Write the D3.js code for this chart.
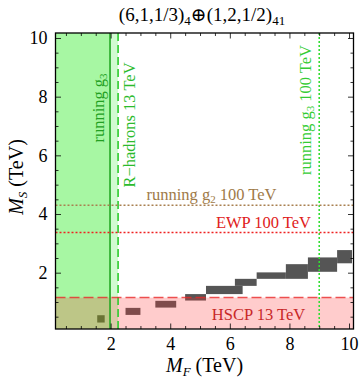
<!DOCTYPE html>
<html>
<head>
<meta charset="utf-8">
<script src="https://cdn.jsdelivr.net/npm/d3@7"></script>
<style>
  body { margin: 0; background: #fff; }
  text { font-family: "Liberation Serif", "DejaVu Serif", serif; }
</style>
</head>
<body>
<svg id="chart"></svg>
<script>
// excluded regions [x0, x1, y0, y1] in TeV
const regionNames = ["R-hadrons 13 TeV", "running g3", "HSCP 13 TeV"];
const regionBounds = [[0, 2.25, 0, 11], [0, 1.98, 0, 11], [0, 11, 0, 1.15]];

// bounds: vertical lines at M_F, horizontal lines at M_S
const vLineNames = ["running g3", "R-hadrons 13 TeV", "running g3 100 TeV"];
const vLineValues = [1.98, 2.25, 9.0];
const hLineNames = ["HSCP 13 TeV", "EWP 100 TeV", "running g2 100 TeV"];
const hLineValues = [1.15, 3.37, 4.3];

// allowed cells [xMin, xMax, yMin, yMax]
const cells = [
    [1.55, 1.8, 0.3, 0.55],
    [2.5, 3.0, 0.56, 0.8],
    [3.5, 4.2, 0.81, 1.04],
    [4.5, 5.2, 1.05, 1.27],
    [5.2, 6.43, 1.27, 1.55],
    [6.17, 6.9, 1.55, 1.79],
    [6.9, 7.88, 1.79, 2.01],
    [7.88, 8.62, 1.79, 2.29],
    [8.62, 9.6, 2.03, 2.52],
    [9.6, 10.1, 2.32, 2.77]
];

const xTicks = [2, 4, 6, 8, 10];
const yTicks = [2, 4, 6, 8, 10];

const width = 360, height = 387;
const margin = { top: 33, right: 6.5, bottom: 58, left: 55.5 };
const innerW = width - margin.left - margin.right;
const innerH = height - margin.top - margin.bottom;

let svg = d3.select("#chart").attr("width", width).attr("height", height);
let chart = svg.append("g").attr("transform", `translate(${margin.left},${margin.top})`);

let xScale = d3.scaleLinear().domain([0.15, 10.15]).range([0, innerW]);
let yScale = d3.scaleLinear().domain([0.08, 10.17]).range([innerH, 0]);

chart.append("clipPath").attr("id", "clip")
    .append("rect").attr("width", innerW).attr("height", innerH);
let plot = chart.append("g").attr("clip-path", "url(#clip)");

// cells first, shaded regions drawn over them
plot.selectAll(".cell")
    .data(cells)
    .enter()
    .append("rect")
    .attr("class", "cell")
    .attr("x", d => xScale(d[0]))
    .attr("y", d => yScale(d[3]))
    .attr("width", d => xScale(d[1]) - xScale(d[0]))
    .attr("height", d => yScale(d[2]) - yScale(d[3]))
    .attr("fill", "#555555");

const regionFill = ["rgba(0,232,0,0.18)", "rgba(20,232,0,0.22)", "rgba(255,51,51,0.25)"];
plot.selectAll(".region")
    .data(regionBounds)
    .enter()
    .append("rect")
    .attr("class", "region")
    .attr("x", d => xScale(Math.max(d[0], 0.15)))
    .attr("y", d => yScale(Math.min(d[3], 10.17)))
    .attr("width", d => xScale(Math.min(d[1], 10.15)) - xScale(Math.max(d[0], 0.15)))
    .attr("height", d => yScale(Math.max(d[2], 0.08)) - yScale(Math.min(d[3], 10.17)))
    .attr("fill", (d, i) => regionFill[i]);

const vStyle = [
    { color: "#22a822", dash: null },
    { color: "#2ccc2c", dash: "8,4" },
    { color: "#33dd33", dash: "2,2" }
];
const hStyle = [
    { color: "rgba(232,40,40,0.8)", dash: "10,4" },
    { color: "#ee2222", dash: "2,2" },
    { color: "#a98050", dash: "2,2" }
];

plot.selectAll(".vline")
    .data(vLineValues)
    .enter()
    .append("line")
    .attr("x1", d => xScale(d)).attr("x2", d => xScale(d))
    .attr("y1", 0).attr("y2", innerH)
    .attr("stroke", (d, i) => vStyle[i].color)
    .attr("stroke-width", 1.6)
    .attr("stroke-dasharray", (d, i) => vStyle[i].dash);

plot.selectAll(".hline")
    .data(hLineValues)
    .enter()
    .append("line")
    .attr("y1", d => yScale(d)).attr("y2", d => yScale(d))
    .attr("x1", 0).attr("x2", innerW)
    .attr("stroke", (d, i) => hStyle[i].color)
    .attr("stroke-width", 1.5)
    .attr("stroke-dasharray", (d, i) => hStyle[i].dash);

// frame ticks
let minorX = d3.range(0.5, 10.01, 0.5).filter(v => v % 2 !== 0);
let minorY = d3.range(0.5, 10.01, 0.5).filter(v => v % 2 !== 0);

let axisBottom = d3.axisBottom(xScale).tickValues(xTicks).tickSize(-5.5).tickPadding(8);
let axisTop = d3.axisTop(xScale).tickValues(xTicks).tickSize(-5.5).tickFormat("");
let axisLeft = d3.axisLeft(yScale).tickValues(yTicks).tickSize(-5.5).tickPadding(8);
let axisRight = d3.axisRight(yScale).tickValues(yTicks).tickSize(-5.5).tickFormat("");

let gB = chart.append("g").attr("transform", `translate(0,${innerH})`).call(axisBottom);
let gT = chart.append("g").call(axisTop);
let gL = chart.append("g").call(axisLeft);
let gR = chart.append("g").attr("transform", `translate(${innerW},0)`).call(axisRight);

gB.append("g").call(d3.axisBottom(xScale).tickValues(minorX).tickSize(-3).tickFormat(""));
gT.append("g").call(d3.axisTop(xScale).tickValues(minorX).tickSize(-3).tickFormat(""));
gL.append("g").call(d3.axisLeft(yScale).tickValues(minorY).tickSize(-3).tickFormat(""));
gR.append("g").call(d3.axisRight(yScale).tickValues(minorY).tickSize(-3).tickFormat(""));

[gB, gT, gL, gR].forEach(g => {
    g.selectAll(".domain").remove();
    g.selectAll("line").attr("stroke", "#000").attr("stroke-width", 0.8);
    g.selectAll("text").attr("font-size", 18).attr("fill", "#000")
        .attr("font-family", "Liberation Serif, DejaVu Serif, serif");
});

chart.append("rect")
    .attr("width", innerW).attr("height", innerH)
    .attr("fill", "none").attr("stroke", "#000").attr("stroke-width", 1.3);

// title
let title = svg.append("text")
    .attr("x", 202).attr("y", 21)
    .attr("text-anchor", "middle")
    .attr("font-size", 19);
title.append("tspan").text("(6,1,1/3)");
title.append("tspan").attr("font-size", 13).attr("dy", 4).text("4");
title.append("tspan").attr("dy", -4).text("⊕(1,2,1/2)");
title.append("tspan").attr("font-size", 13).attr("dy", 4).text("41");

// axis labels
let xLabel = svg.append("text")
    .attr("x", margin.left + innerW / 2).attr("y", 372)
    .attr("text-anchor", "middle").attr("font-size", 20);
xLabel.append("tspan").attr("font-style", "italic").text("M");
xLabel.append("tspan").attr("font-style", "italic").attr("font-size", 13).attr("dy", 4).text("F");
xLabel.append("tspan").attr("dy", -4).text(" (TeV)");

let yLabel = svg.append("text")
    .attr("transform", `translate(23,177) rotate(-90)`)
    .attr("text-anchor", "middle").attr("font-size", 20);
yLabel.append("tspan").attr("font-style", "italic").text("M");
yLabel.append("tspan").attr("font-style", "italic").attr("font-size", 13).attr("dy", 4).text("S");
yLabel.append("tspan").attr("dy", -4).text(" (TeV)");

// line labels
function lineLabel(transform, parts, color) {
    let t = chart.append("text")
        .attr("transform", transform)
        .attr("text-anchor", "middle").attr("font-size", 16.5).attr("fill", color);
    parts.forEach(p => {
        let s = t.append("tspan").text(p.text);
        if (p.sub) s.attr("font-size", 11).attr("dy", 3);
        if (p.back) s.attr("dy", -3);
    });
}

lineLabel(`translate(${xScale(vLineValues[0]) - 6},75) rotate(-90)`,
    [{ text: "running g" }, { text: "3", sub: true }], "#22a022");
lineLabel(`translate(${xScale(vLineValues[1]) + 17},92) rotate(-90)`,
    [{ text: "R−hadrons 13 TeV" }], "#2cbb2c");
lineLabel(`translate(${xScale(vLineValues[2]) - 8},77) rotate(-90)`,
    [{ text: "running g" }, { text: "3", sub: true }, { text: " 100 TeV", back: true }], "#33cc33");

lineLabel(`translate(156,${yScale(hLineValues[2]) - 5})`,
    [{ text: "running g" }, { text: "2", sub: true }, { text: " 100 TeV", back: true }], "#a07a48");
lineLabel(`translate(208,${yScale(hLineValues[1]) - 4})`,
    [{ text: "EWP 100 TeV" }], "#e02020");
lineLabel(`translate(203,${yScale(0.55) + 5})`,
    [{ text: "HSCP 13 TeV" }], "#c82828");
</script>
</body>
</html>
